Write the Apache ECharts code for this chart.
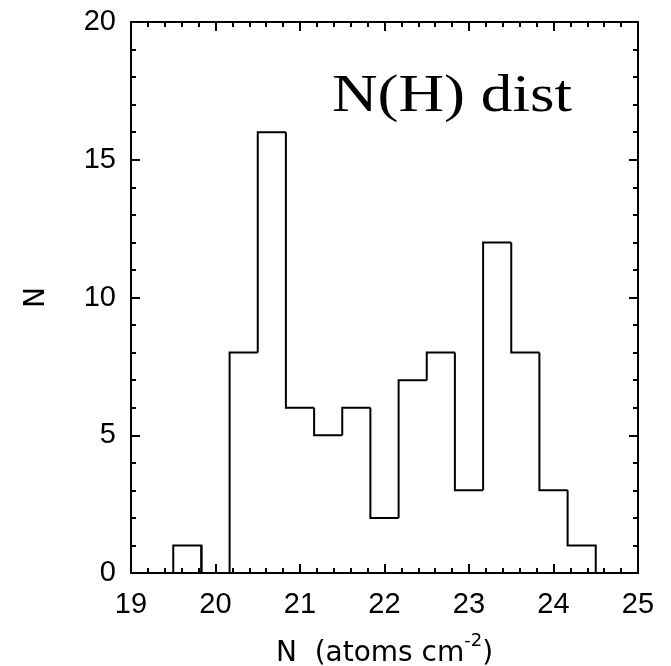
<!DOCTYPE html>
<html>
<head>
<meta charset="utf-8">
<script src="https://cdn.jsdelivr.net/npm/echarts@6/dist/echarts.min.js"></script>
<style>html,body{margin:0;padding:0;background:#fff;}#c{width:671px;height:666px;}</style>
</head>
<body>
<div id="c"></div>
<script>
// Histogram bin edges (log N(H), atoms cm^-2) and counts per bin
const binEdges = [19.5, 19.833, 20.167, 20.5, 20.833, 21.167, 21.5, 21.833, 22.167, 22.5, 22.833, 23.167, 23.5, 23.833, 24.167, 24.5];
const counts   = [1, 0, 8, 16, 6, 5, 6, 2, 7, 8, 3, 12, 8, 3, 1];
const xTicks = [19, 20, 21, 22, 23, 24, 25];
const yTicks = [0, 5, 10, 15, 20];
const titleText = 'N(H) dist';

// [left edge, right edge, count, previous count, next count]
const data = counts.map((c, i) => [
  binEdges[i], binEdges[i + 1], c,
  i > 0 ? counts[i - 1] : 0,
  i < counts.length - 1 ? counts[i + 1] : 0
]);

const black = '#000';
const tickFont = 'Liberation Sans';
const nameFont = 'DejaVu Sans';
const common = {
  type: 'value',
  splitLine: { show: false },
  axisLine: { onZero: false, lineStyle: { color: black, width: 2 } },
  axisTick: { inside: true, length: 9, lineStyle: { color: black, width: 2 } },
  minorTick: { show: true, splitNumber: 5, length: 5, lineStyle: { color: black, width: 2 } }
};

const chart = echarts.init(document.getElementById('c'), null, { renderer: 'canvas' });
chart.setOption({
  animation: false,
  backgroundColor: '#fff',
  grid: { left: 131, right: 33, top: 22, bottom: 93, containLabel: false, outerBoundsMode: 'none' },
  xAxis: [
    Object.assign({}, common, {
      position: 'bottom', min: xTicks[0], max: xTicks[xTicks.length - 1], interval: 1,
      axisLabel: { fontSize: 29, color: black, fontFamily: tickFont, margin: 17 },
      name: '{n|N  (atoms cm}{s|-2}{n|)}',
      nameLocation: 'middle', nameGap: 59,
      nameTextStyle: {
        rich: {
          n: { fontSize: 28, fontFamily: nameFont, color: black },
          s: { fontSize: 18, fontFamily: nameFont, color: black, verticalAlign: 'top', padding: [0, 0, 26, 0] }
        }
      }
    }),
    Object.assign({}, common, {
      position: 'top', min: xTicks[0], max: xTicks[xTicks.length - 1], interval: 1,
      axisLabel: { show: false }
    })
  ],
  yAxis: [
    Object.assign({}, common, {
      position: 'left', min: yTicks[0], max: yTicks[yTicks.length - 1], interval: 5,
      axisLabel: { fontSize: 29, color: black, fontFamily: tickFont, margin: 15 },
      name: 'N', nameLocation: 'middle', nameRotate: 90, nameGap: 80,
      nameTextStyle: { fontSize: 28, fontFamily: nameFont, color: black }
    }),
    Object.assign({}, common, {
      position: 'right', min: yTicks[0], max: yTicks[yTicks.length - 1], interval: 5,
      axisLabel: { show: false }
    })
  ],
  graphic: [{
    type: 'text', x: 332, y: 71, scaleX: 1.19,
    style: { text: titleText, font: '53px "Liberation Serif"', fill: black, verticalAlign: 'top' }
  }],
  series: [{
    type: 'custom',
    xAxisIndex: 0, yAxisIndex: 0,
    data: data,
    encode: { x: [0, 1], y: 2 },
    renderItem: function (params, api) {
      const x0 = api.value(0), x1 = api.value(1), c = api.value(2);
      const prev = api.value(3), next = api.value(4);
      const pts = [api.coord([x0, prev]), api.coord([x0, c]), api.coord([x1, c])];
      if (next === 0 && c !== 0) pts.push(api.coord([x1, 0]));
      return {
        type: 'polyline',
        shape: { points: pts },
        style: { fill: null, stroke: black, lineWidth: 2 }
      };
    }
  }]
});
</script>
</body>
</html>
